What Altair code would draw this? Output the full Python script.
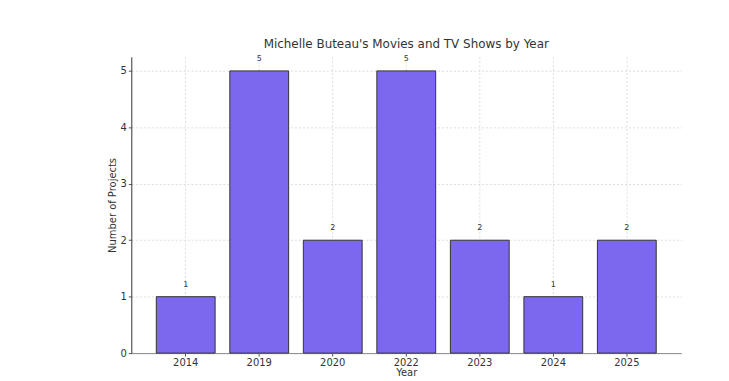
import altair as alt
import pandas as pd

years = ["2014", "2019", "2020", "2022", "2023", "2024", "2025"]
counts = [1, 5, 2, 5, 2, 1, 2]

df = pd.DataFrame({"Year": years, "Count": counts})

F = "DejaVu Sans"

x = alt.X("Year:N", sort=years, title="Year",
          scale=alt.Scale(paddingInner=0.2, paddingOuter=0.34),
          axis=alt.Axis(labelAngle=0, labelFontSize=10, labelColor="#333", titleFontSize=10,
                        labelFont=F, titleFont=F,
                        titleColor="#333", titleFontWeight="normal", titlePadding=1,
                        grid=True, gridDash=[2, 2], gridColor="#ddd", bandPosition=0.5,
                        tickColor="#555", tickSize=3, domainColor="#888", labelPadding=1))
y = alt.Y("Count:Q", title="Number of Projects",
          scale=alt.Scale(domain=[0, 5.25], nice=False),
          axis=alt.Axis(values=[0, 1, 2, 3, 4, 5], format="d", labelFontSize=10, labelColor="#333",
                        labelFont=F, titleFont=F,
                        titleFontSize=10, titleColor="#333", titleFontWeight="normal",
                        grid=True, gridDash=[2, 2], gridColor="#ddd", tickColor="#555",
                        tickSize=3, domainColor="#333", labelPadding=2, titlePadding=3))

bars = alt.Chart(df).mark_bar(color="#7B68EE", stroke="#333", strokeWidth=1).encode(x=x, y=y)
labels = alt.Chart(df).mark_text(fontSize=8, font=F, color="#333", dy=-8, baseline="bottom").encode(
    x=alt.X("Year:N", sort=years), y="Count:Q", text="Count:Q")

chart = (bars + labels).properties(
    width=553, height=298,
    title=alt.TitleParams("Michelle Buteau's Movies and TV Shows by Year", fontSize=12, font=F,
                          fontWeight="normal", color="#333", offset=4),
    autosize=alt.AutoSizeParams(type="none"),
    padding={"left": 124, "top": 48, "right": 40, "bottom": 30},
).configure_view(stroke=None)

chart.save("out.html", embed_options={"renderer": "svg", "actions": False})
